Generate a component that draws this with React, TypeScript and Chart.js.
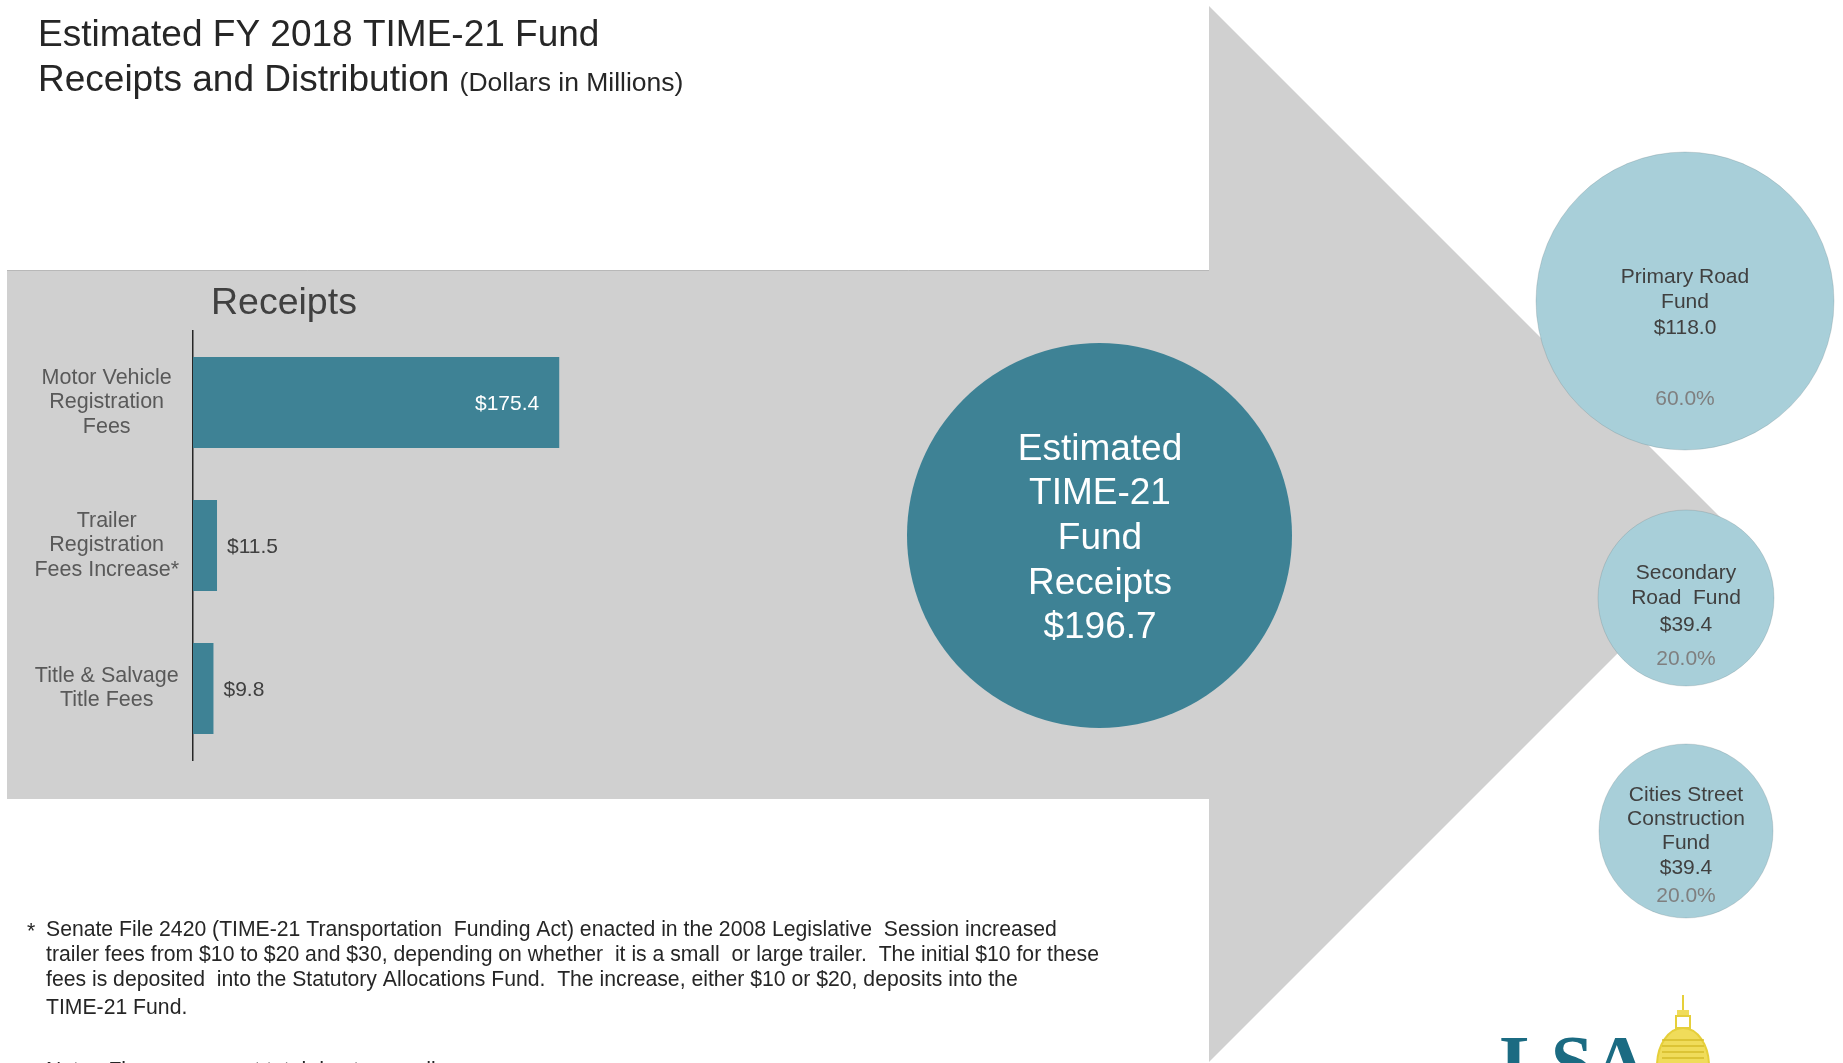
import React, { useEffect, useRef } from "react";
import { Chart, registerables } from "chart.js";

Chart.register(...registerables);

// ---- data ----
const titleLines = ["Estimated FY 2018 TIME-21 Fund", "Receipts and Distribution"];
const titleUnits = "(Dollars in Millions)";
const receiptsTitle = "Receipts";
const categories: string[][] = [
  ["Motor Vehicle", "Registration", "Fees"],
  ["Trailer", "Registration", "Fees Increase*"],
  ["Title & Salvage", "Title Fees"],
];
const receipts = [175.4, 11.5, 9.8];
const totalLabel = ["Estimated", "TIME-21", "Fund", "Receipts"];
const totalReceipts = 196.7;
const fundNames: string[][] = [
  ["Primary Road", "Fund"],
  ["Secondary", "Road  Fund"],
  ["Cities Street", "Construction", "Fund"],
];
const fundAmounts = [118.0, 39.4, 39.4];
const fundShares = [60.0, 20.0, 20.0];
const footnoteLines = [
  "Senate File 2420 (TIME-21 Transportation  Funding Act) enacted in the 2008 Legislative  Session increased",
  "trailer fees from $10 to $20 and $30, depending on whether  it is a small  or large trailer.  The initial $10 for these",
  "fees is deposited  into the Statutory Allocations Fund.  The increase, either $10 or $20, deposits into the",
  "TIME-21 Fund.",
];
const noteText = "Note:  Figures may not total due to rounding.";

// ---- layout / style ----
const W = 1843;
const H = 1063;
const FONT = '"Liberation Sans", Arial, sans-serif';
const TEAL = "#3e8295";
const LIGHT = "#a8cfd9";
const GRAY = "#d0d0d0";
const fundCircles = [
  { cx: 1685, cy: 301, r: 149, lineYs: [277, 302, 328], pctY: 399 },
  { cx: 1686, cy: 598, r: 88, lineYs: [573, 598, 625], pctY: 659 },
  { cx: 1686, cy: 831, r: 87, lineYs: [795, 819, 843, 868], pctY: 896 },
];

const fmt = (v: number) => "$" + v.toFixed(1);

const decorPlugin = {
  id: "decor",
  beforeDraw(chart: any) {
    const ctx = chart.ctx as CanvasRenderingContext2D;
    ctx.save();
    ctx.fillStyle = "#ffffff";
    ctx.fillRect(0, 0, W, H);

    // arrow
    ctx.fillStyle = GRAY;
    ctx.beginPath();
    ctx.moveTo(7, 270);
    ctx.lineTo(1209, 270);
    ctx.lineTo(1209, 6);
    ctx.lineTo(1737, 534);
    ctx.lineTo(1209, 1062);
    ctx.lineTo(1209, 799);
    ctx.lineTo(7, 799);
    ctx.closePath();
    ctx.fill();
    ctx.strokeStyle = "#b8b8b8";
    ctx.lineWidth = 1;
    ctx.beginPath();
    ctx.moveTo(7, 270.5);
    ctx.lineTo(1209, 270.5);
    ctx.stroke();

    // title
    ctx.fillStyle = "#262626";
    ctx.textBaseline = "alphabetic";
    ctx.textAlign = "left";
    ctx.font = "37px " + FONT;
    ctx.fillText(titleLines[0], 38, 46);
    ctx.fillText(titleLines[1], 38, 91);
    const w2 = ctx.measureText(titleLines[1] + " ").width;
    ctx.font = "26.5px " + FONT;
    ctx.fillText(titleUnits, 38 + w2, 91);

    // receipts title
    ctx.fillStyle = "#404040";
    ctx.font = "37.5px " + FONT;
    ctx.fillText(receiptsTitle, 211, 314);

    // big circle
    ctx.fillStyle = TEAL;
    ctx.beginPath();
    ctx.arc(1099.5, 535.5, 192.5, 0, Math.PI * 2);
    ctx.fill();
    ctx.fillStyle = "#ffffff";
    ctx.textAlign = "center";
    ctx.textBaseline = "middle";
    ctx.font = "37px " + FONT;
    const bigLines = [...totalLabel, fmt(totalReceipts)];
    bigLines.forEach((t, i) => ctx.fillText(t, 1100, 449.5 + i * 44.6));

    // fund circles
    fundCircles.forEach((c, i) => {
      ctx.fillStyle = LIGHT;
      ctx.beginPath();
      ctx.arc(c.cx, c.cy, c.r, 0, Math.PI * 2);
      ctx.fill();
      ctx.strokeStyle = "rgba(80,100,105,0.2)";
      ctx.lineWidth = 1;
      ctx.stroke();
      ctx.fillStyle = "#404040";
      ctx.font = "21px " + FONT;
      const lines = [...fundNames[i], fmt(fundAmounts[i])];
      lines.forEach((t, k) => ctx.fillText(t, c.cx, c.lineYs[k]));
      ctx.fillStyle = "#7f7f7f";
      ctx.fillText(fundShares[i].toFixed(1) + "%", c.cx, c.pctY);
    });

    // footnote
    ctx.textAlign = "left";
    ctx.fillStyle = "#262626";
    ctx.font = "21.2px " + FONT;
    ctx.fillText("*", 27, 932);
    const fy = [930, 955, 980, 1008];
    footnoteLines.forEach((t, i) => ctx.fillText(t, 46, fy[i]));
    ctx.textBaseline = "top";
    ctx.fillText(noteText, 46, 1061);

    // logo
    ctx.textBaseline = "alphabetic";
    ctx.fillStyle = "#1b6b82";
    ctx.font = "bold 76px \"Liberation Serif\", serif";
    ctx.fillText("LSA", 1500, 1088);
    ctx.strokeStyle = "#e6cf3a";
    ctx.fillStyle = "#f0dc5a";
    ctx.lineWidth = 2;
    ctx.beginPath();
    ctx.moveTo(1683, 995);
    ctx.lineTo(1683, 1012);
    ctx.stroke();
    ctx.fillRect(1677, 1010, 12, 5);
    ctx.strokeRect(1676, 1016, 14, 12);
    ctx.beginPath();
    ctx.ellipse(1683, 1066, 26, 38, 0, Math.PI, 2 * Math.PI);
    ctx.fill();
    ctx.stroke();
    ctx.strokeStyle = "#d6bd2a";
    ctx.lineWidth = 1.5;
    for (let k = 0; k < 4; k++) {
      ctx.beginPath();
      ctx.moveTo(1662, 1040 + k * 6);
      ctx.lineTo(1704, 1040 + k * 6);
      ctx.stroke();
    }
    ctx.restore();
  },
  afterDatasetsDraw(chart: any) {
    const ctx = chart.ctx as CanvasRenderingContext2D;
    const meta = chart.getDatasetMeta(0);
    ctx.save();
    ctx.font = "21px " + FONT;
    ctx.textBaseline = "middle";
    meta.data.forEach((bar: any, i: number) => {
      const v = receipts[i];
      if (v > 50) {
        ctx.fillStyle = "#ffffff";
        ctx.textAlign = "right";
        ctx.fillText(fmt(v), bar.x - 20, bar.y + 2);
      } else {
        ctx.fillStyle = "#404040";
        ctx.textAlign = "left";
        ctx.fillText(fmt(v), bar.x + 10, bar.y + 2);
      }
    });
    ctx.restore();
  },
};

export default function App() {
  const ref = useRef<HTMLCanvasElement | null>(null);
  useEffect(() => {
    if (!ref.current) return;
    const chart = new Chart(ref.current, {
      type: "bar",
      data: {
        labels: categories,
        datasets: [
          {
            data: receipts,
            backgroundColor: TEAL,
            borderWidth: 0,
            barPercentage: 0.636,
            categoryPercentage: 1,
          },
        ],
      },
      options: {
        indexAxis: "y",
        responsive: false,
        animation: false,
        devicePixelRatio: 1,
        events: [],
        layout: { padding: { left: 0, top: 331, bottom: 303, right: 1843 - 193 - 522 } },
        plugins: { legend: { display: false }, tooltip: { enabled: false }, title: { display: false } },
        scales: {
          x: { display: false, min: 0, max: 250 },
          y: {
            afterFit: (s: any) => {
              s.width = 193;
            },
            grid: { display: false, drawTicks: false },
            border: { display: true, color: "#262626", width: 1.5 },
            ticks: {
              crossAlign: "center",
              padding: 14,
              color: "#595959",
              font: { family: FONT, size: 21.5, lineHeight: 1.12 },
            },
          },
        },
      },
      plugins: [decorPlugin],
    });
    return () => chart.destroy();
  }, []);
  return (
    <div style={{ position: "fixed", left: 0, top: 0, width: W, height: H, background: "#fff" }}>
      <canvas ref={ref} width={W} height={H} style={{ width: W, height: H, display: "block" }} />
    </div>
  );
}
